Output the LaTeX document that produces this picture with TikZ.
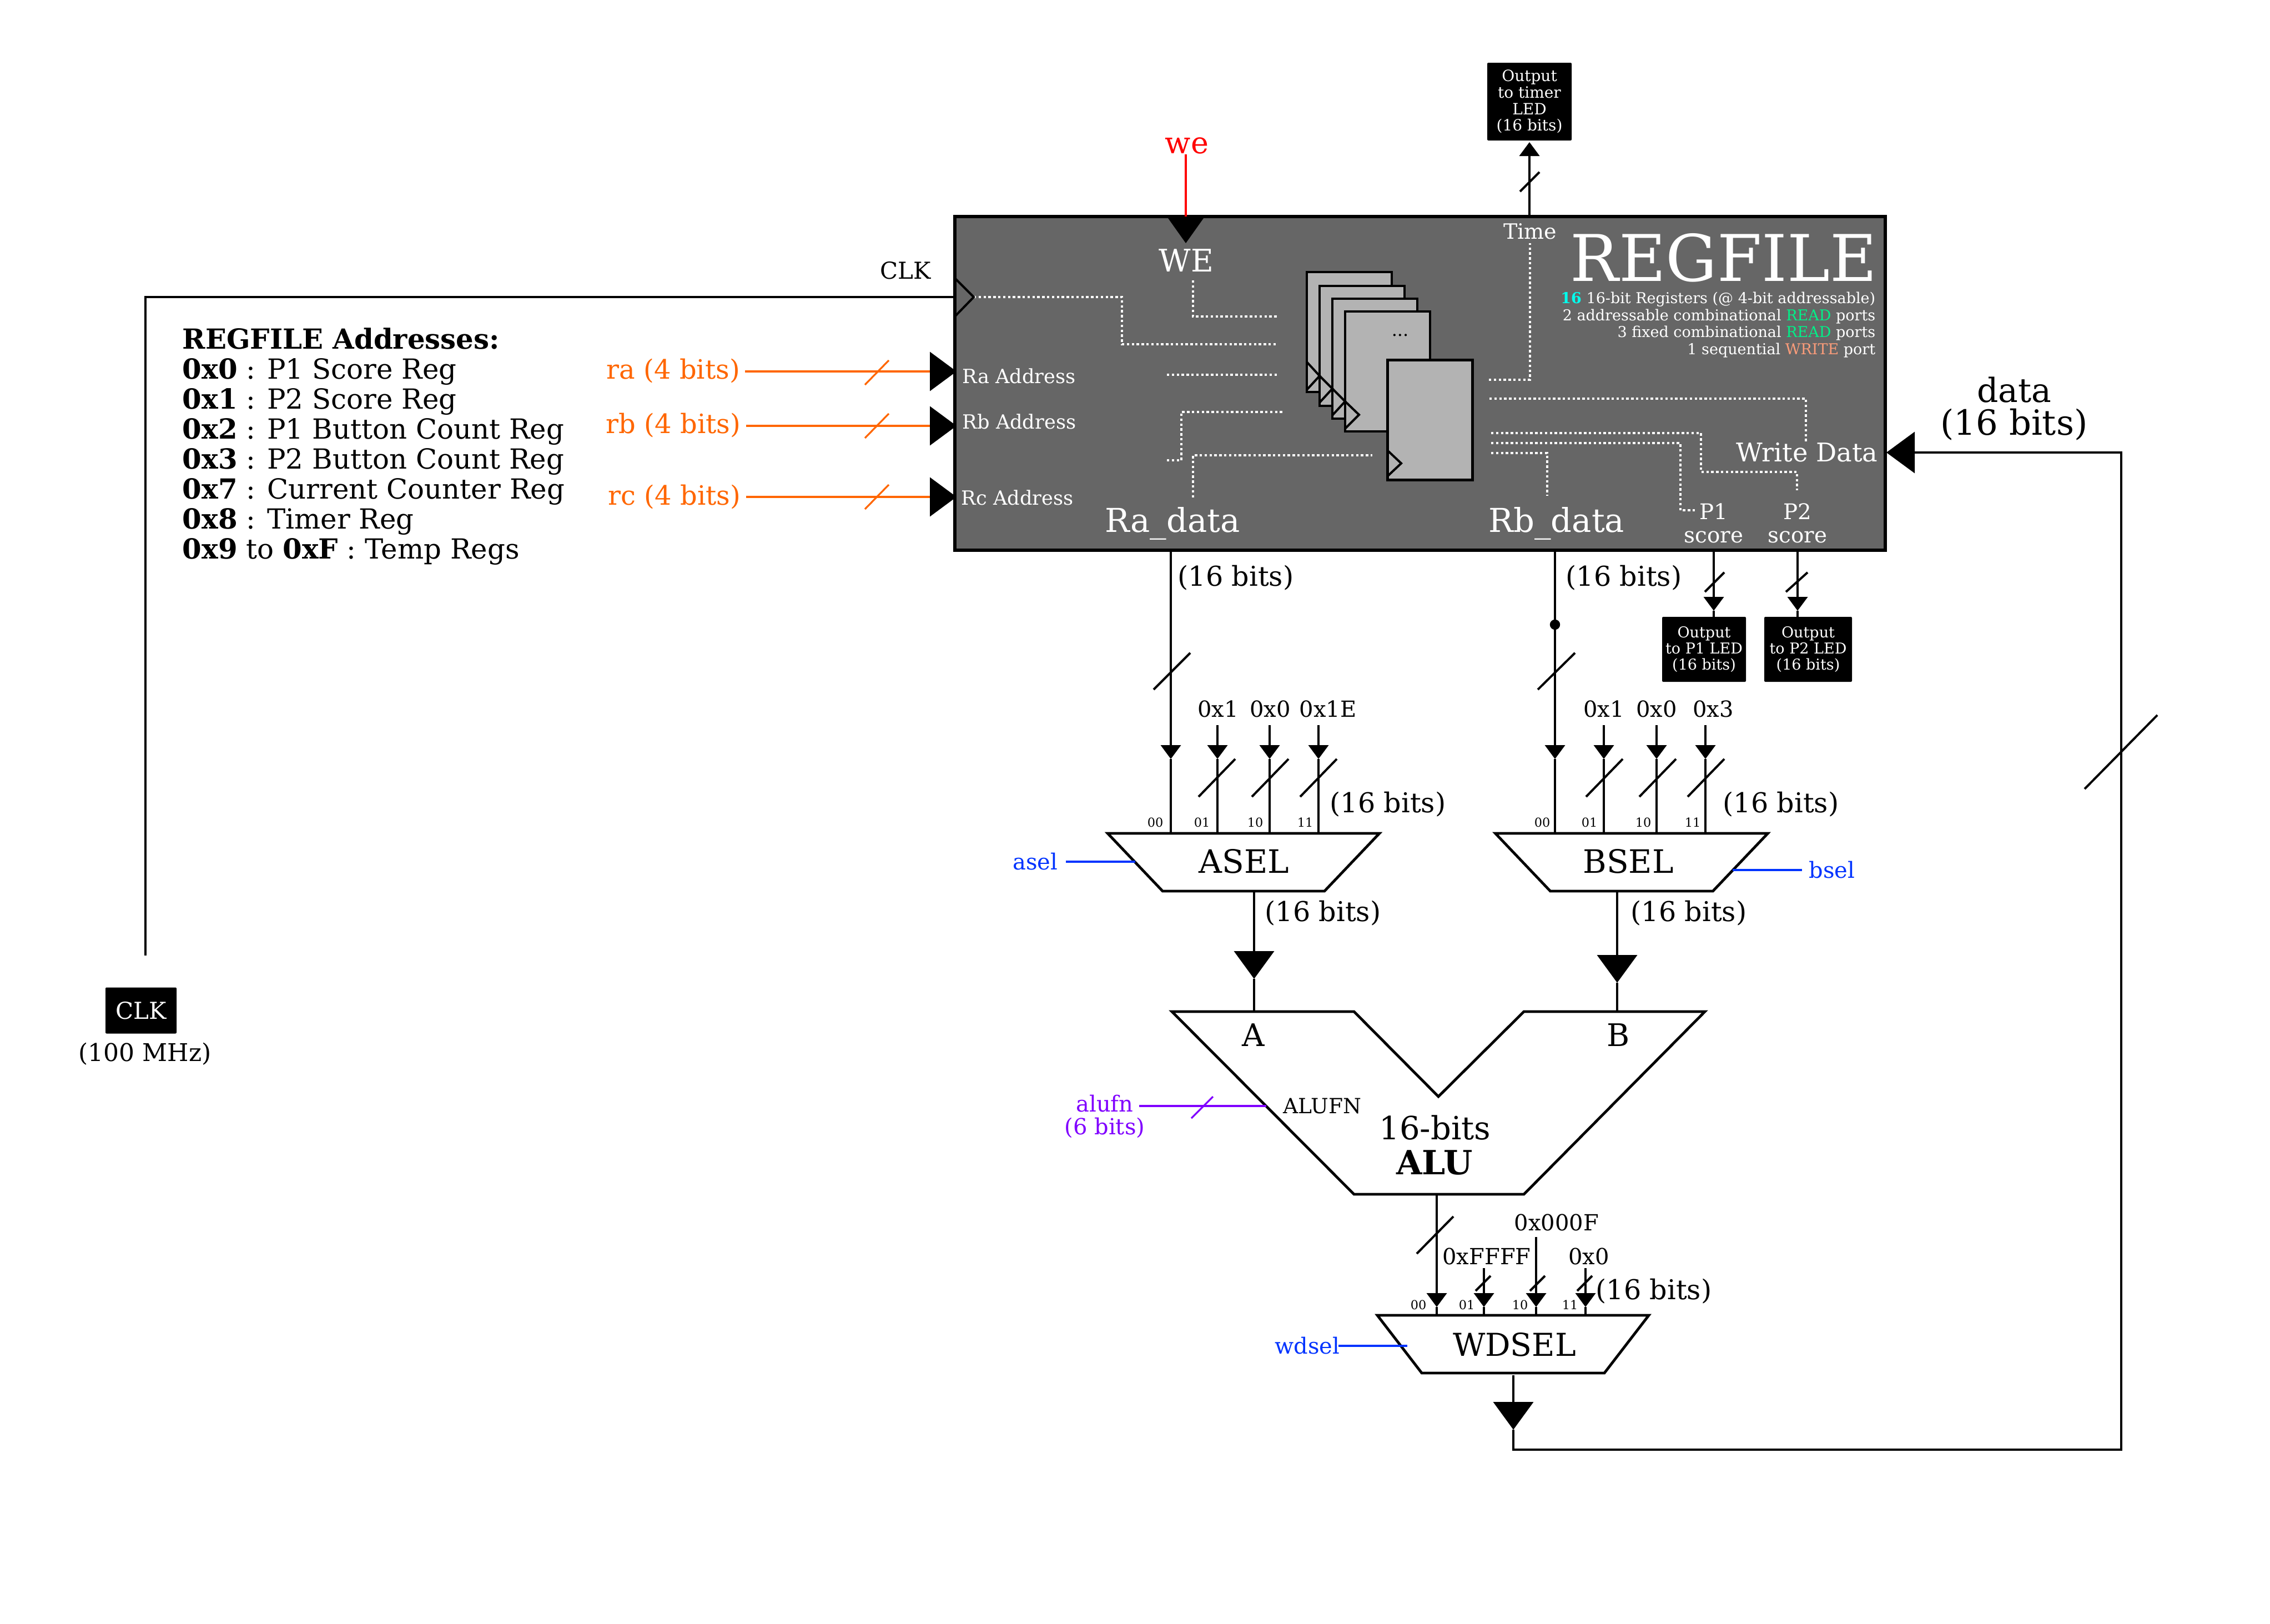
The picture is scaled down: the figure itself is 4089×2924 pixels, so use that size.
\documentclass[tikz,border=0pt]{standalone}
\usepackage{fontspec}
\usepackage{xcolor}
\usetikzlibrary{arrows.meta,shapes.geometric}
\setmainfont{DejaVu Serif}
\definecolor{rfgray}{HTML}{666666}
\definecolor{stackgray}{HTML}{B3B3B3}
\definecolor{addrorange}{HTML}{FF6600}
\definecolor{selblue}{HTML}{0033FF}
\definecolor{alupurple}{HTML}{8000FF}
\definecolor{readgreen}{HTML}{00F088}
\definecolor{writesalmon}{HTML}{FA9C7A}
\definecolor{countcyan}{HTML}{00FFEE}
\newcommand{\fz}[1]{\fontsize{#1}{#1}\selectfont}
\tikzset{
  wire/.style={line width=1pt,draw=black,line cap=butt},
  smalltip/.style={-{Triangle[length=6.25pt,width=9pt]}},
  bigtip/.style={-{Triangle[length=12.5pt,width=18pt]}},
  regbox/.style={rectangle,draw=black,fill=stackgray,line width=1.2pt,outer sep=0pt,minimum width=153*.25pt,minimum height=216*.25pt},
  dotwire/.style={draw=white,line width=1.05pt,dash pattern=on 1.1pt off 1.1pt},
  whitetxt/.style={text=white,inner sep=0pt},
  blacktxt/.style={text=black,inner sep=0pt},
  outbox/.style={rectangle,fill=black,rounded corners=.5pt,text=white,align=center,inner sep=0pt,outer sep=0pt},
  muxbox/.style={trapezium,shape border rotate=180,draw=black,fill=white,line width=1.2pt,inner sep=0pt,outer sep=0pt,
    trapezium stretches=true,trapezium angle=38.5,minimum width=492*.25pt,minimum height=104*.25pt,font=\fz{14.5}},
  muxlabel/.style={blacktxt,font=\fz{14.5}},
  sixteen/.style={blacktxt,font=\fz{12.3}},
  bitlabel/.style={blacktxt,font=\fz{5.6}},
  constlabel/.style={blacktxt,font=\fz{10}},
}
\begin{document}
\begin{tikzpicture}[x=.25pt,y=-.25pt]
\useasboundingbox (0,0) rectangle (4089,2924);

% ---------- register file ----------
\node[rectangle,draw=black,fill=rfgray,line width=1.3pt,outer sep=0pt,minimum width=1676*.25pt,minimum height=601*.25pt] (regfile) at (2558,690.5) {};

% internal dotted wiring
\draw[dotwire] (2149,505) -- (2149,570) -- (2302,570);
\draw[dotwire] (1754,535) -- (2021,535) -- (2021,620) -- (2301,620);
\draw[dotwire] (2102,675) -- (2304,675);
\draw[dotwire] (2102,829) -- (2128,829) -- (2128,742) -- (2310,742);
\draw[dotwire] (2149,896) -- (2149,820) -- (2472,820);
\draw[dotwire] (2682,684) -- (2756,684) -- (2756,438);
\draw[dotwire] (2683,718) -- (3253,718) -- (3253,796);
\draw[dotwire] (2686,780) -- (3064,780) -- (3064,850) -- (3237,850) -- (3237,883);
\draw[dotwire] (2686,798) -- (3027,798) -- (3027,919) -- (3054,919);
\draw[dotwire] (2686,816) -- (2787,816) -- (2787,893);

% register stack
\node[regbox] (r1) at (2430.5,598) {};
\node[regbox] (r2) at (2453.5,623) {};
\node[regbox] (r3) at (2476.5,646) {};
\node[regbox] (r4) at (2499.5,669) {};
\draw[wire] (2354,652) -- (2377,677) -- (2354,702);
\draw[wire] (2377,677) -- (2400,700) -- (2377,725);
\draw[wire] (2400,700) -- (2423,723) -- (2400,748);
\draw[wire] (2423,723) -- (2448,747) -- (2423,772);
\node[blacktxt,font=\fz{8}] (rdots) at (2522,604) {...};
\node[regbox] (r5) at (2576,756.5) {};
\draw[wire] (2499,811) -- (2524,834.5) -- (2499,858);

% regfile labels
\node[whitetxt,font=\fz{29}] (rfname) at (3105,464) {REGFILE};
\node[whitetxt,font=\fontsize{6.75}{7.6}\selectfont,align=right,anchor=east] (rfinfo) at (3379,585)
 {{\bfseries\textcolor{countcyan}{16}} 16-bit Registers (@ 4-bit addressable)\\
  2 addressable combinational \textcolor{readgreen}{READ} ports\\
  3 fixed combinational \textcolor{readgreen}{READ} ports\\
  1 sequential \textcolor{writesalmon}{WRITE} port};
\node[whitetxt,font=\fz{14}] (lwe) at (2137,469) {WE};
\node[whitetxt,font=\fz{9.5}] (ltime) at (2756,417) {Time};
\node[whitetxt,font=\fz{8.8},anchor=west] (lra) at (1733,677) {Ra Address};
\node[whitetxt,font=\fz{8.8},anchor=west] (lrb) at (1733,759) {Rb Address};
\node[whitetxt,font=\fz{8.8},anchor=west] (lrc) at (1731,896) {Rc Address};
\node[whitetxt,font=\fz{14.8}] (lradata) at (2112,943) {Ra\_data};
\node[whitetxt,font=\fz{14.8}] (lrbdata) at (2804,943) {Rb\_data};
\node[whitetxt,align=center,font=\fontsize{9.7}{10.5}\selectfont] (lp1) at (3087,942) {P1\\score};
\node[whitetxt,align=center,font=\fontsize{9.7}{10.5}\selectfont] (lp2) at (3238,942) {P2\\score};
\node[whitetxt,font=\fz{11.6}] (lwrite) at (3255,815) {Write Data};

% clock input triangle on the regfile
\draw[wire] (1720,501) -- (1754,535) -- (1720,570);

% ---------- we ----------
\node[text=red,inner sep=0pt,font=\fz{13.5}] (we) at (2138,262) {we};
\coordinate (weA) at (2136,278);
\coordinate (weB) at (2136,438);
\draw[draw=red,line width=1pt,-{Triangle[length=12pt,width=16.8pt,color=black]}] (weA) -- (weB);

% ---------- timer output ----------
\node[outbox,font=\fontsize{7}{7.4}\selectfont,minimum width=152*.25pt,minimum height=140*.25pt] (outtimer) at (2755,183)
 {Output\\to timer\\LED\\(16 bits)};
\coordinate (timeOut) at (2755,390);
\coordinate (timeTip) at (2755,256);
\draw[wire,smalltip] (timeOut) -- (timeTip);
\draw[wire] (2738,345) -- (2773,310);

% ---------- clock ----------
\node[outbox,font=\fz{10.5},minimum width=128*.25pt,minimum height=83*.25pt] (clkbox) at (254,1820) {CLK};
\node[blacktxt,font=\fz{11}] (clkfreq) at (261,1898) {(100 MHz)};
\node[blacktxt,font=\fz{10.5}] (lclk) at (1631,487) {CLK};
\coordinate (clkA) at (262,1721);
\coordinate (clkB) at (262,535);
\coordinate (clkC) at (1720,535);
\draw[wire] (clkA) -- (clkB) -- (clkC);

% ---------- address legend ----------
\node[blacktxt,font=\fontsize{12.45}{13.5}\selectfont,align=left,anchor=west] (legend) at (328,804)
 {\textbf{REGFILE Addresses:}\\
  \textbf{0x0} : P1 Score Reg\\
  \textbf{0x1} : P2 Score Reg\\
  \textbf{0x2} : P1 Button Count Reg\\
  \textbf{0x3} : P2 Button Count Reg\\
  \textbf{0x7} : Current Counter Reg\\
  \textbf{0x8} : Timer Reg\\
  \textbf{0x9} to \textbf{0xF} : Temp Regs};

% ---------- address inputs ----------
\node[text=addrorange,inner sep=0pt,font=\fz{12}] (ra) at (1213,668) {ra (4 bits)};
\node[text=addrorange,inner sep=0pt,font=\fz{12}] (rb) at (1213,766) {rb (4 bits)};
\node[text=addrorange,inner sep=0pt,font=\fz{12}] (rc) at (1215,895) {rc (4 bits)};
\coordinate (raA) at (1342,669);  \coordinate (raB) at (1723,669);
\coordinate (rbA) at (1344,767);  \coordinate (rbB) at (1723,767);
\coordinate (rcA) at (1344,895);  \coordinate (rcB) at (1723,895);
\foreach \p in {ra,rb,rc}
  \draw[draw=addrorange,line width=1pt,-{Triangle[length=12pt,width=17.5pt,color=black]}] (\p A) -- (\p B);
\draw[draw=addrorange,line width=.8pt] (1558,693) -- (1601,649);
\draw[draw=addrorange,line width=.8pt] (1558,789) -- (1601,745);
\draw[draw=addrorange,line width=.8pt] (1558,917) -- (1601,873);

% ---------- regfile outputs ----------
\coordinate (rfA) at (2109,991);
\coordinate (rfB) at (2801,991);
\node[sixteen] (s1) at (2226,1041) {(16 bits)};
\node[sixteen] (s2) at (2925,1041) {(16 bits)};
\node[circle,fill=black,inner sep=0pt,minimum size=4.6pt] (tap) at (2801,1125) {};

% LED outputs
\node[outbox,font=\fontsize{6.75}{7.25}\selectfont,minimum width=151*.25pt,minimum height=117*.25pt] (outp1) at (3069.5,1169.5) {Output\\to P1 LED\\(16 bits)};
\node[outbox,font=\fontsize{6.75}{7.25}\selectfont,minimum width=158*.25pt,minimum height=117*.25pt] (outp2) at (3257,1169.5) {Output\\to P2 LED\\(16 bits)};
\coordinate (p1A) at (3087,991); \coordinate (p1T) at (3087,1100); \coordinate (p1E) at (3087,1111);
\coordinate (p2A) at (3238,991); \coordinate (p2T) at (3238,1100); \coordinate (p2E) at (3238,1111);
\draw[wire,smalltip] (p1A) -- (p1T); \draw[wire] (p1T) -- (p1E);
\draw[wire,smalltip] (p2A) -- (p2T); \draw[wire] (p2T) -- (p2E);
\draw[wire] (3071,1066) -- (3106,1031);
\draw[wire] (3217,1066) -- (3256,1031);

% ---------- ASEL ----------
\node[muxbox] (asel) at (2240,1553) {\phantom{ASEL}};
\node[muxlabel] (aselT) at (2241,1551) {ASEL};
\coordinate (a0t) at (2109,1367); \coordinate (a0e) at (2109,1501);
\coordinate (a1s) at (2193,1306); \coordinate (a1t) at (2193,1367); \coordinate (a1e) at (2193,1499);
\coordinate (a2s) at (2287,1306); \coordinate (a2t) at (2287,1367); \coordinate (a2e) at (2287,1499);
\coordinate (a3s) at (2375,1306); \coordinate (a3t) at (2375,1367); \coordinate (a3e) at (2375,1499);
\draw[wire,smalltip] (rfA) -- (a0t); \draw[wire] (a0t) -- (a0e);
\foreach \p in {a1,a2,a3} { \draw[wire,smalltip] (\p s) -- (\p t); \draw[wire] (\p t) -- (\p e); }
\draw[wire] (2078,1242) -- (2144,1176);
\draw[wire] (2159,1435) -- (2225,1367);
\draw[wire] (2255,1435) -- (2321,1367);
\draw[wire] (2342,1435) -- (2408,1367);
\node[constlabel] (ca1) at (2194,1277) {0x1};
\node[constlabel] (ca2) at (2288,1277) {0x0};
\node[constlabel] (ca3) at (2392,1277) {0x1E};
\node[bitlabel] (ba0) at (2081,1481) {00};
\node[bitlabel] (ba1) at (2165,1481) {01};
\node[bitlabel] (ba2) at (2261,1481) {10};
\node[bitlabel] (ba3) at (2351,1481) {11};
\node[sixteen] (s3) at (2500,1449) {(16 bits)};
\node[text=selblue,inner sep=0pt,font=\fz{10}] (aselc) at (1865,1552) {asel};
\coordinate (aselA) at (1920,1552); \coordinate (aselB) at (2045,1552);
\draw[draw=selblue,line width=1pt] (aselA) -- (aselB);

% ---------- BSEL ----------
\node[muxbox] (bsel) at (2939,1553) {\phantom{BSEL}};
\node[muxlabel] (bselT) at (2933,1551) {BSEL};
\coordinate (b0t) at (2801,1367); \coordinate (b0e) at (2801,1501);
\coordinate (b1s) at (2889,1306); \coordinate (b1t) at (2889,1367); \coordinate (b1e) at (2889,1499);
\coordinate (b2s) at (2984,1306); \coordinate (b2t) at (2984,1367); \coordinate (b2e) at (2984,1499);
\coordinate (b3s) at (3072,1306); \coordinate (b3t) at (3072,1367); \coordinate (b3e) at (3072,1499);
\draw[wire,smalltip] (rfB) -- (b0t); \draw[wire] (b0t) -- (b0e);
\foreach \p in {b1,b2,b3} { \draw[wire,smalltip] (\p s) -- (\p t); \draw[wire] (\p t) -- (\p e); }
\draw[wire] (2770,1242) -- (2837,1176);
\draw[wire] (2857,1435) -- (2923,1367);
\draw[wire] (2953,1435) -- (3019,1367);
\draw[wire] (3040,1435) -- (3106,1367);
\node[constlabel] (cb1) at (2889,1277) {0x1};
\node[constlabel] (cb2) at (2984,1277) {0x0};
\node[constlabel] (cb3) at (3086,1277) {0x3};
\node[bitlabel] (bb0) at (2778,1481) {00};
\node[bitlabel] (bb1) at (2863,1481) {01};
\node[bitlabel] (bb2) at (2960,1481) {10};
\node[bitlabel] (bb3) at (3049,1481) {11};
\node[sixteen] (s4) at (3208,1449) {(16 bits)};
\node[text=selblue,inner sep=0pt,font=\fz{10}] (bselc) at (3300,1567) {bsel};
\coordinate (bselA) at (3246,1567); \coordinate (bselB) at (3121,1567);
\draw[draw=selblue,line width=1pt] (bselA) -- (bselB);

% ---------- ALU ----------
\coordinate (al1) at (2111,1822); \coordinate (al2) at (2439,1822); \coordinate (al3) at (2591,1975);
\coordinate (al4) at (2745,1822); \coordinate (al5) at (3071,1822); \coordinate (al6) at (2745,2151);
\coordinate (al7) at (2439,2151);
\draw[draw=black,fill=white,line width=1.2pt,line join=miter] (al1) -- (al2) -- (al3) -- (al4) -- (al5) -- (al6) -- (al7) -- cycle;
\node[blacktxt,font=\fz{14}] (la) at (2258,1864) {A};
\node[blacktxt,font=\fz{14}] (lb) at (2915,1864) {B};
\node[blacktxt,font=\fz{9.4}] (lalufn) at (2382,1992) {ALUFN};
\node[blacktxt,font=\fz{14.4}] (l16) at (2585,2031) {16-bits};
\node[blacktxt,font=\bfseries\fz{15}] (lalu) at (2584,2094) {ALU};

\coordinate (ao) at (2259,1605); \coordinate (at) at (2259,1763); \coordinate (ae) at (2259,1822);
\coordinate (bo) at (2913,1605); \coordinate (bt) at (2913,1770); \coordinate (be) at (2913,1822);
\draw[wire,bigtip] (ao) -- (at); \draw[wire] (at) -- (ae);
\draw[wire,bigtip] (bo) -- (bt); \draw[wire] (bt) -- (be);
\node[sixteen] (s5) at (2383,1645) {(16 bits)};
\node[sixteen] (s6) at (3042,1645) {(16 bits)};

\node[text=alupurple,inner sep=0pt,align=center,font=\fontsize{10}{10.4}\selectfont] (alufn) at (1990,2011) {alufn\\(6 bits)};
\coordinate (alA) at (2052,1992); \coordinate (alB) at (2281,1992);
\draw[draw=alupurple,line width=1pt] (alA) -- (alB);
\draw[draw=alupurple,line width=.8pt] (2146,2014) -- (2185,1975);

% ---------- WDSEL ----------
\node[muxbox] (wdsel) at (2725.5,2421) {\phantom{WDSEL}};
\node[muxlabel,font=\fz{14.2}] (wdselT) at (2728,2422) {WDSEL};
\coordinate (w0s) at (2588,2151); \coordinate (w0t) at (2588,2354); \coordinate (w0e) at (2588,2368);
\coordinate (w1s) at (2673,2284); \coordinate (w1t) at (2673,2354); \coordinate (w1e) at (2673,2368);
\coordinate (w2s) at (2767,2228); \coordinate (w2t) at (2767,2354); \coordinate (w2e) at (2767,2368);
\coordinate (w3s) at (2856,2284); \coordinate (w3t) at (2856,2354); \coordinate (w3e) at (2856,2368);
\foreach \p in {w0,w1,w2,w3} { \draw[wire,smalltip] (\p s) -- (\p t); \draw[wire] (\p t) -- (\p e); }
\draw[wire] (2552,2258) -- (2618,2191);
\draw[wire] (2658,2325) -- (2685,2298);
\draw[wire] (2756,2325) -- (2783,2298);
\draw[wire] (2841,2325) -- (2868,2298);
\node[constlabel] (cw1) at (2678,2263) {0xFFFF};
\node[constlabel] (cw2) at (2804,2202) {0x000F};
\node[constlabel] (cw3) at (2862,2263) {0x0};
\node[sixteen] (s7) at (2979,2326) {(16 bits)};
\node[bitlabel] (bw0) at (2555,2350) {00};
\node[bitlabel] (bw1) at (2642,2350) {01};
\node[bitlabel] (bw2) at (2738,2350) {10};
\node[bitlabel] (bw3) at (2828,2350) {11};
\node[text=selblue,inner sep=0pt,font=\fz{10}] (wdselc) at (2355,2424) {wdsel};
\coordinate (wdA) at (2411,2424); \coordinate (wdB) at (2535,2424);
\draw[draw=selblue,line width=1pt] (wdA) -- (wdB);

% ---------- write data feedback ----------
\coordinate (fbA) at (2726,2477);
\coordinate (fbT) at (2726,2575);
\coordinate (fbB) at (2726,2611);
\coordinate (fbC) at (3821,2611);
\coordinate (fbD) at (3821,815);
\coordinate (fbE) at (3398,815);
\draw[wire,bigtip] (fbA) -- (fbT);
\draw[wire,-{Triangle[length=12.75pt,width=18.5pt]}] (fbT) -- (fbB) -- (fbC) -- (fbD) -- (fbE);
\draw[wire] (3755,1421) -- (3886,1288);
\node[blacktxt,font=\fz{15}] (ldata) at (3628,702) {data};
\node[blacktxt,font=\fz{15.6}] (ldata2) at (3628,765) {(16 bits)};
\end{tikzpicture}
\end{document}
